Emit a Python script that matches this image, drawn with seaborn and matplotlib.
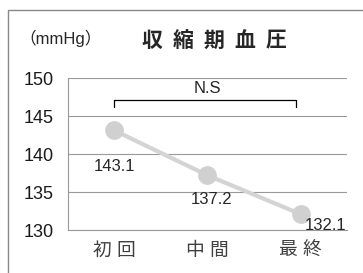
import pandas as pd
import matplotlib.pyplot as plt
import seaborn as sns

# data
visits = ["初 回", "中 間", "最 終"]
sbp = [143.1, 137.2, 132.1]
yticks = [130, 135, 140, 145, 150]
title_chars = ["収", "縮", "期", "血", "圧"]

sns.set_style("white")
plt.rcParams["font.family"] = ["Liberation Sans", "Noto Sans CJK JP"]

df = pd.DataFrame({"pos": range(len(visits)), "sbp": sbp})

fig = plt.figure(figsize=(3.63, 2.73), dpi=100)
ax = fig.add_axes([0.187, 0.1575, 0.769, 0.5565])

# outer chart frame (right and bottom edges fall outside the image)
fig.patches.append(plt.Rectangle((8 / 363, -0.05), 1.0, (273 - 10) / 273 + 0.05,
                                 transform=fig.transFigure, fill=False,
                                 edgecolor="#888888", linewidth=1.0))

sns.lineplot(data=df, x="pos", y="sbp", ax=ax, color="#d4d4d4", linewidth=3,
             marker="o", markersize=13.5, markeredgewidth=0, markerfacecolor="#d0d0d0")

ax.set_xlim(-0.5, 2.5)
ax.set_ylim(130, 150)
ax.set_yticks(yticks)
ax.set_yticklabels([str(t) for t in yticks], fontsize=13, color="#1a1a1a")
ax.set_xticks(range(len(visits)))
ax.set_xticklabels(visits, fontsize=13.5, color="#404040")
ax.set_xticks([-0.5, 0.5, 1.5, 2.5], minor=True)
ax.tick_params(axis="x", which="major", length=0, pad=9)
ax.tick_params(axis="x", which="minor", length=4, color="#999999", width=0.8)
ax.tick_params(axis="y", length=5, color="#999999", width=0.8, pad=5)
ax.grid(axis="y", color="#999999", linewidth=0.8)
ax.set_xlabel("")
ax.set_ylabel("")
for s in ["top", "right"]:
    ax.spines[s].set_visible(False)
for s in ["left", "bottom"]:
    ax.spines[s].set_color("#999999")
    ax.spines[s].set_linewidth(0.8)

# value labels
offsets = [(0.0, -4.7), (0.04, -3.25), (0.27, -1.45)]
for i, v in enumerate(sbp):
    ax.text(i + offsets[i][0], v + offsets[i][1], f"{v:.1f}", ha="center",
            va="center", fontsize=12, color="#262626")

# N.S bracket
ax.plot([0, 0, 1.95, 1.95], [146.2, 147.1, 147.1, 146.2], color="black",
        linewidth=0.9, clip_on=False)
ax.text(1.0, 148.6, "N.S", ha="center", va="center", fontsize=12)

fig.text(19 / 363, 1 - 38 / 273, "（mmHg）", ha="left", va="center", fontsize=12)
for k, ch in enumerate(title_chars):
    fig.text((152 + 31 * k) / 363, 1 - 41 / 273, ch, ha="center", va="center",
             fontsize=15, fontweight="bold")

fig.savefig("out.png", dpi=100)
